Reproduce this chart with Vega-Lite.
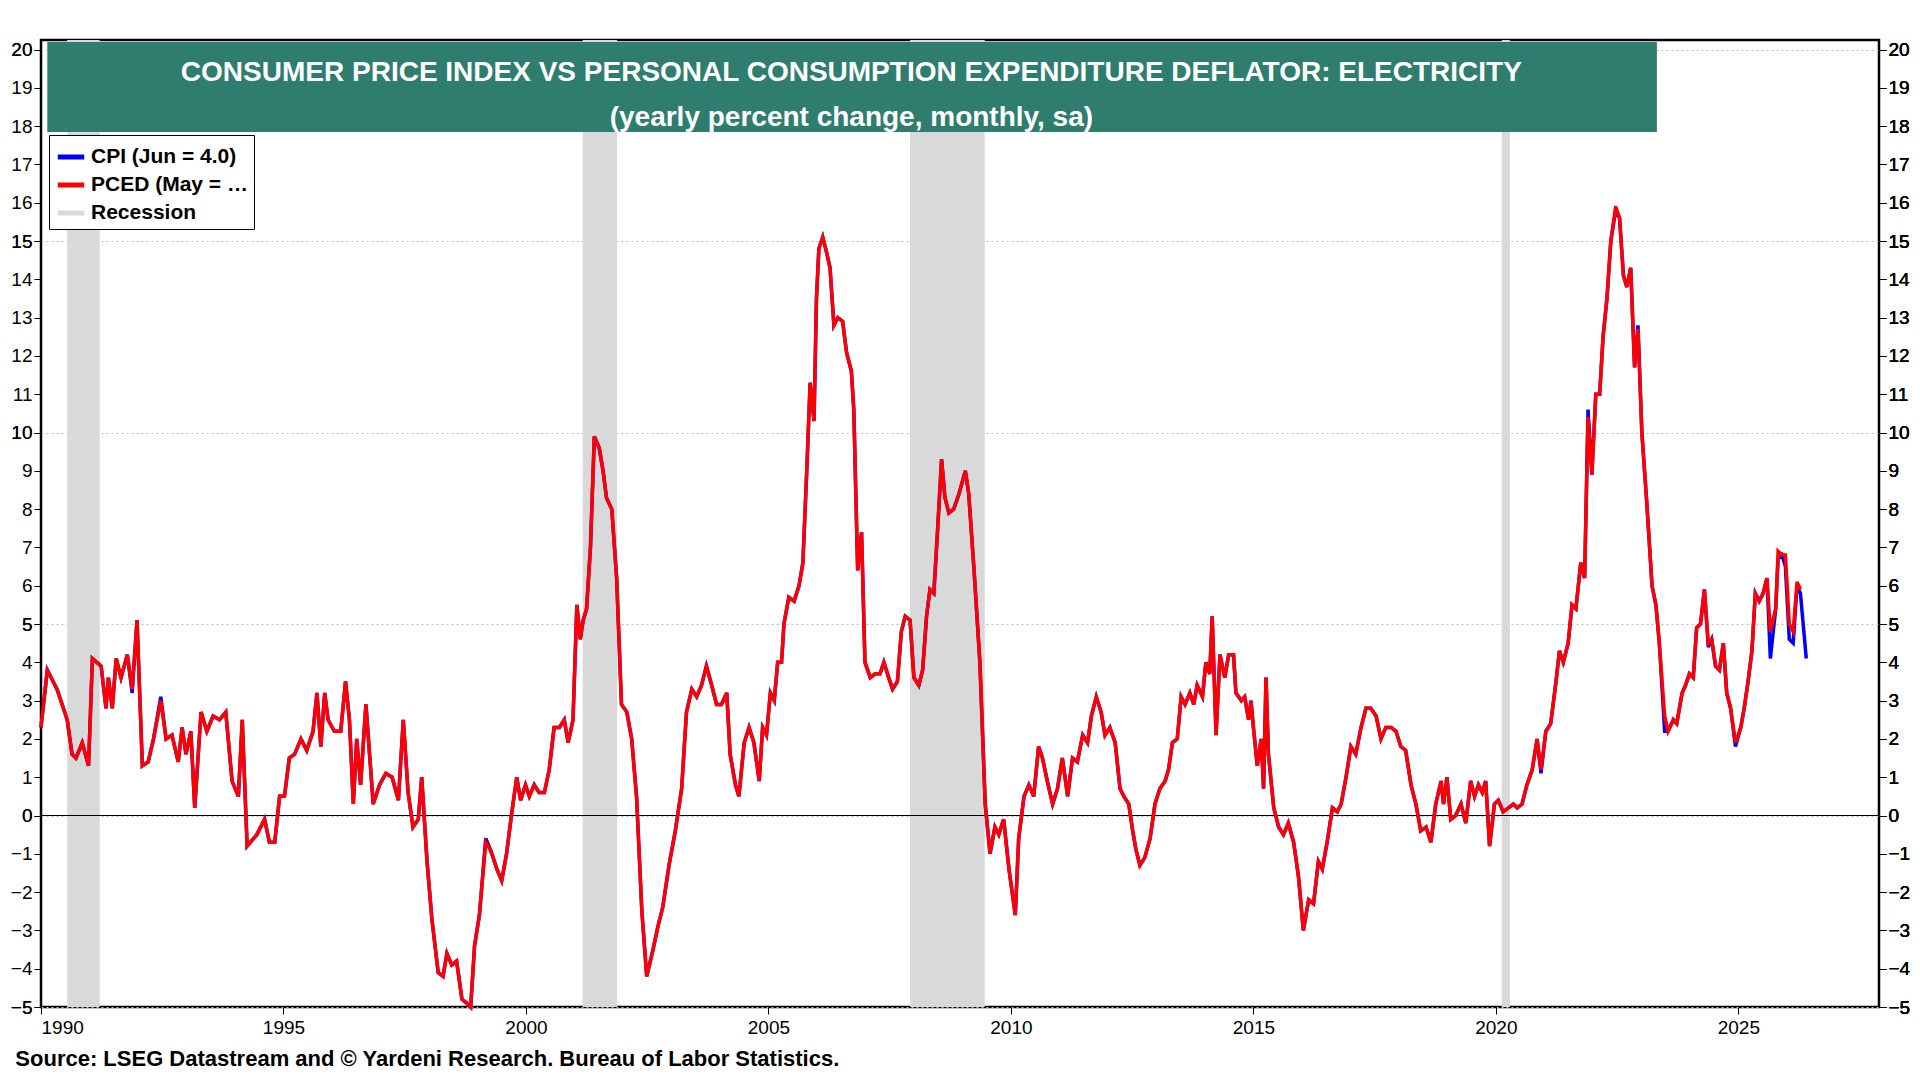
{
  "$schema": "https://vega.github.io/schema/vega-lite/v6.json",
  "width": 1920,
  "height": 1080,
  "autosize": {"type": "fit", "contains": "padding"},
  "background": "white",
  "padding": {"left": 10, "right": 10, "top": 40, "bottom": 10},
  "config": {
    "font": "Liberation Sans",
    "view": {"stroke": "black", "strokeWidth": 2.5},
    "axis": {"labelFont": "Liberation Sans", "labelFontSize": 19, "labelColor": "black", "tickColor": "black", "tickSize": 7, "domain": false, "gridColor": "#bbbbbb", "gridDash": [2, 3], "gridWidth": 1, "title": null}
  },
  "title": {"text": "Source: LSEG Datastream and © Yardeni Research. Bureau of Labor Statistics.", "orient": "bottom", "anchor": "start", "fontSize": 22, "fontWeight": "bold", "font": "Liberation Sans", "offset": 12, "dx": 5},
  "datasets": {
    "rec": [
      {"s": 1990.54, "e": 1991.21},
      {"s": 2001.17, "e": 2001.88},
      {"s": 2007.92, "e": 2009.46},
      {"s": 2020.12, "e": 2020.29}
    ],
    "head": [
      {"x": 2006.71, "y": 19.4, "txt": "CONSUMER PRICE INDEX VS PERSONAL CONSUMPTION EXPENDITURE DEFLATOR: ELECTRICITY"},
      {"x": 2006.71, "y": 18.22, "txt": "(yearly percent change, monthly, sa)"}
    ],
    "d": [
      {"t":1990.00,"c":2.3,"p":2.3},{"t":1990.13,"c":3.8,"p":3.8},{"t":1990.33,"c":3.3,"p":3.3},{"t":1990.54,"c":2.5,"p":2.5},
      {"t":1990.64,"c":1.6,"p":1.6},{"t":1990.72,"c":1.5,"p":1.5},{"t":1990.85,"c":1.9,"p":1.9},{"t":1990.98,"c":1.3,"p":1.3},
      {"t":1991.06,"c":4.1,"p":4.1},{"t":1991.24,"c":3.9,"p":3.9},{"t":1991.34,"c":2.8,"p":2.8},{"t":1991.39,"c":3.6,"p":3.6},
      {"t":1991.47,"c":2.8,"p":2.8},{"t":1991.55,"c":4.1,"p":4.1},{"t":1991.65,"c":3.6,"p":3.6},{"t":1991.78,"c":4.2,"p":4.2},
      {"t":1991.88,"c":3.2,"p":3.3},{"t":1991.98,"c":5.1,"p":5.1},{"t":1992.09,"c":1.3,"p":1.3},{"t":1992.21,"c":1.4,"p":1.4},
      {"t":1992.32,"c":2.0,"p":2.0},{"t":1992.47,"c":3.1,"p":3.0},{"t":1992.58,"c":2.0,"p":2.0},{"t":1992.70,"c":2.1,"p":2.1},
      {"t":1992.83,"c":1.4,"p":1.4},{"t":1992.91,"c":2.3,"p":2.3},{"t":1992.99,"c":1.6,"p":1.6},{"t":1993.09,"c":2.2,"p":2.2},
      {"t":1993.17,"c":0.2,"p":0.2},{"t":1993.30,"c":2.7,"p":2.7},{"t":1993.42,"c":2.2,"p":2.2},{"t":1993.55,"c":2.6,"p":2.6},
      {"t":1993.68,"c":2.5,"p":2.5},{"t":1993.81,"c":2.7,"p":2.7},{"t":1993.94,"c":0.9,"p":0.9},{"t":1994.07,"c":0.5,"p":0.5},
      {"t":1994.15,"c":2.5,"p":2.5},{"t":1994.25,"c":-0.8,"p":-0.8},{"t":1994.45,"c":-0.5,"p":-0.5},{"t":1994.61,"c":-0.1,"p":-0.1},
      {"t":1994.71,"c":-0.7,"p":-0.7},{"t":1994.82,"c":-0.7,"p":-0.7},{"t":1994.92,"c":0.5,"p":0.5},{"t":1995.02,"c":0.5,"p":0.5},
      {"t":1995.12,"c":1.5,"p":1.5},{"t":1995.23,"c":1.6,"p":1.6},{"t":1995.36,"c":2.0,"p":2.0},{"t":1995.48,"c":1.7,"p":1.7},
      {"t":1995.61,"c":2.2,"p":2.2},{"t":1995.69,"c":3.2,"p":3.2},{"t":1995.77,"c":1.8,"p":1.8},{"t":1995.85,"c":3.2,"p":3.2},
      {"t":1995.92,"c":2.5,"p":2.5},{"t":1996.05,"c":2.2,"p":2.2},{"t":1996.18,"c":2.2,"p":2.2},{"t":1996.28,"c":3.5,"p":3.5},
      {"t":1996.36,"c":2.5,"p":2.5},{"t":1996.44,"c":0.3,"p":0.3},{"t":1996.51,"c":2.0,"p":2.0},{"t":1996.59,"c":0.8,"p":0.8},
      {"t":1996.70,"c":2.9,"p":2.9},{"t":1996.85,"c":0.3,"p":0.3},{"t":1996.98,"c":0.8,"p":0.8},{"t":1997.11,"c":1.1,"p":1.1},
      {"t":1997.24,"c":1.0,"p":1.0},{"t":1997.37,"c":0.4,"p":0.4},{"t":1997.47,"c":2.5,"p":2.5},{"t":1997.57,"c":0.6,"p":0.6},
      {"t":1997.67,"c":-0.3,"p":-0.3},{"t":1997.78,"c":-0.1,"p":-0.1},{"t":1997.85,"c":1.0,"p":1.0},{"t":1997.96,"c":-1.2,"p":-1.2},
      {"t":1998.06,"c":-2.7,"p":-2.7},{"t":1998.19,"c":-4.1,"p":-4.1},{"t":1998.29,"c":-4.2,"p":-4.2},{"t":1998.37,"c":-3.6,"p":-3.6},
      {"t":1998.47,"c":-3.9,"p":-3.9},{"t":1998.57,"c":-3.8,"p":-3.8},{"t":1998.68,"c":-4.8,"p":-4.8},{"t":1998.78,"c":-4.9,"p":-4.9},
      {"t":1998.86,"c":-5.0,"p":-5.0},{"t":1998.94,"c":-3.4,"p":-3.4},{"t":1999.04,"c":-2.6,"p":-2.6},{"t":1999.17,"c":-0.6,"p":-0.7},
      {"t":1999.27,"c":-0.9,"p":-0.9},{"t":1999.40,"c":-1.4,"p":-1.4},{"t":1999.50,"c":-1.7,"p":-1.7},{"t":1999.60,"c":-1.0,"p":-1.0},
      {"t":1999.71,"c":0.1,"p":0.1},{"t":1999.81,"c":1.0,"p":1.0},{"t":1999.89,"c":0.4,"p":0.4},{"t":1999.99,"c":0.8,"p":0.8},
      {"t":2000.07,"c":0.5,"p":0.5},{"t":2000.17,"c":0.8,"p":0.8},{"t":2000.27,"c":0.6,"p":0.6},{"t":2000.38,"c":0.6,"p":0.6},
      {"t":2000.48,"c":1.2,"p":1.2},{"t":2000.58,"c":2.3,"p":2.3},{"t":2000.69,"c":2.3,"p":2.3},{"t":2000.79,"c":2.5,"p":2.5},
      {"t":2000.87,"c":1.9,"p":1.9},{"t":2000.97,"c":2.5,"p":2.5},{"t":2001.05,"c":5.5,"p":5.5},{"t":2001.12,"c":4.6,"p":4.6},
      {"t":2001.18,"c":5.1,"p":5.1},{"t":2001.25,"c":5.4,"p":5.4},{"t":2001.33,"c":7.0,"p":7.0},{"t":2001.41,"c":9.9,"p":9.9},
      {"t":2001.51,"c":9.6,"p":9.6},{"t":2001.59,"c":9.0,"p":9.0},{"t":2001.66,"c":8.3,"p":8.3},{"t":2001.77,"c":8.0,"p":8.0},
      {"t":2001.87,"c":6.2,"p":6.2},{"t":2001.97,"c":2.9,"p":2.9},{"t":2002.08,"c":2.7,"p":2.7},{"t":2002.18,"c":2.0,"p":2.0},
      {"t":2002.28,"c":0.5,"p":0.5},{"t":2002.39,"c":-2.5,"p":-2.5},{"t":2002.49,"c":-4.2,"p":-4.2},{"t":2002.62,"c":-3.5,"p":-3.5},
      {"t":2002.72,"c":-2.9,"p":-2.9},{"t":2002.82,"c":-2.4,"p":-2.4},{"t":2002.95,"c":-1.3,"p":-1.3},{"t":2003.08,"c":-0.4,"p":-0.4},
      {"t":2003.21,"c":0.7,"p":0.7},{"t":2003.31,"c":2.7,"p":2.7},{"t":2003.42,"c":3.3,"p":3.3},{"t":2003.52,"c":3.1,"p":3.1},
      {"t":2003.62,"c":3.4,"p":3.4},{"t":2003.72,"c":3.9,"p":3.9},{"t":2003.83,"c":3.4,"p":3.4},{"t":2003.93,"c":2.9,"p":2.9},
      {"t":2004.03,"c":2.9,"p":2.9},{"t":2004.14,"c":3.2,"p":3.2},{"t":2004.21,"c":1.6,"p":1.6},{"t":2004.32,"c":0.8,"p":0.8},
      {"t":2004.39,"c":0.5,"p":0.5},{"t":2004.50,"c":1.9,"p":1.9},{"t":2004.60,"c":2.3,"p":2.3},{"t":2004.70,"c":1.9,"p":1.9},
      {"t":2004.81,"c":0.9,"p":0.9},{"t":2004.88,"c":2.3,"p":2.3},{"t":2004.96,"c":2.1,"p":2.1},{"t":2005.04,"c":3.2,"p":3.2},
      {"t":2005.12,"c":3.0,"p":3.0},{"t":2005.19,"c":4.0,"p":4.0},{"t":2005.27,"c":4.0,"p":4.0},{"t":2005.32,"c":5.0,"p":5.0},
      {"t":2005.42,"c":5.7,"p":5.7},{"t":2005.53,"c":5.6,"p":5.6},{"t":2005.63,"c":6.0,"p":6.0},{"t":2005.71,"c":6.6,"p":6.6},
      {"t":2005.79,"c":9.0,"p":9.0},{"t":2005.86,"c":11.3,"p":11.3},{"t":2005.94,"c":10.3,"p":10.3},{"t":2005.99,"c":13.5,"p":13.5},
      {"t":2006.04,"c":14.8,"p":14.8},{"t":2006.12,"c":15.1,"p":15.1},{"t":2006.20,"c":14.7,"p":14.7},{"t":2006.27,"c":14.3,"p":14.3},
      {"t":2006.35,"c":12.8,"p":12.8},{"t":2006.43,"c":13.0,"p":13.0},{"t":2006.53,"c":12.9,"p":12.9},{"t":2006.61,"c":12.1,"p":12.1},
      {"t":2006.71,"c":11.6,"p":11.6},{"t":2006.76,"c":10.6,"p":10.6},{"t":2006.84,"c":6.4,"p":6.4},{"t":2006.92,"c":7.4,"p":7.4},
      {"t":2006.99,"c":4.0,"p":4.0},{"t":2007.10,"c":3.6,"p":3.6},{"t":2007.20,"c":3.7,"p":3.7},{"t":2007.30,"c":3.7,"p":3.7},
      {"t":2007.38,"c":4.0,"p":4.0},{"t":2007.48,"c":3.6,"p":3.6},{"t":2007.56,"c":3.3,"p":3.3},{"t":2007.66,"c":3.5,"p":3.5},
      {"t":2007.74,"c":4.8,"p":4.8},{"t":2007.82,"c":5.2,"p":5.2},{"t":2007.92,"c":5.1,"p":5.1},{"t":2008.00,"c":3.6,"p":3.6},
      {"t":2008.10,"c":3.4,"p":3.4},{"t":2008.18,"c":3.8,"p":3.8},{"t":2008.26,"c":5.2,"p":5.2},{"t":2008.33,"c":5.9,"p":5.9},
      {"t":2008.41,"c":5.8,"p":5.8},{"t":2008.49,"c":7.5,"p":7.5},{"t":2008.57,"c":9.3,"p":9.3},{"t":2008.64,"c":8.3,"p":8.3},
      {"t":2008.72,"c":7.9,"p":7.9},{"t":2008.82,"c":8.0,"p":8.0},{"t":2008.93,"c":8.4,"p":8.4},{"t":2009.06,"c":9.0,"p":9.0},
      {"t":2009.13,"c":8.4,"p":8.4},{"t":2009.24,"c":6.4,"p":6.4},{"t":2009.36,"c":4.0,"p":4.0},{"t":2009.47,"c":0.3,"p":0.3},
      {"t":2009.57,"c":-1.0,"p":-1.0},{"t":2009.67,"c":-0.3,"p":-0.3},{"t":2009.75,"c":-0.5,"p":-0.5},{"t":2009.85,"c":-0.1,"p":-0.1},
      {"t":2009.96,"c":-1.4,"p":-1.4},{"t":2010.09,"c":-2.6,"p":-2.6},{"t":2010.16,"c":-0.6,"p":-0.6},{"t":2010.27,"c":0.5,"p":0.5},
      {"t":2010.37,"c":0.8,"p":0.8},{"t":2010.47,"c":0.5,"p":0.5},{"t":2010.57,"c":1.8,"p":1.8},{"t":2010.65,"c":1.5,"p":1.5},
      {"t":2010.75,"c":0.9,"p":0.9},{"t":2010.86,"c":0.3,"p":0.3},{"t":2010.96,"c":0.7,"p":0.7},{"t":2011.06,"c":1.5,"p":1.5},
      {"t":2011.17,"c":0.5,"p":0.5},{"t":2011.27,"c":1.5,"p":1.5},{"t":2011.37,"c":1.4,"p":1.4},{"t":2011.48,"c":2.1,"p":2.1},
      {"t":2011.58,"c":1.9,"p":1.9},{"t":2011.66,"c":2.6,"p":2.6},{"t":2011.76,"c":3.1,"p":3.1},{"t":2011.86,"c":2.7,"p":2.7},
      {"t":2011.94,"c":2.1,"p":2.1},{"t":2012.04,"c":2.3,"p":2.3},{"t":2012.15,"c":1.9,"p":1.9},{"t":2012.25,"c":0.7,"p":0.7},
      {"t":2012.33,"c":0.5,"p":0.5},{"t":2012.43,"c":0.3,"p":0.3},{"t":2012.51,"c":-0.4,"p":-0.4},{"t":2012.58,"c":-0.9,"p":-0.9},
      {"t":2012.66,"c":-1.3,"p":-1.3},{"t":2012.76,"c":-1.1,"p":-1.1},{"t":2012.87,"c":-0.6,"p":-0.6},{"t":2012.97,"c":0.3,"p":0.3},
      {"t":2013.07,"c":0.7,"p":0.7},{"t":2013.18,"c":0.9,"p":0.9},{"t":2013.25,"c":1.2,"p":1.2},{"t":2013.33,"c":1.9,"p":1.9},
      {"t":2013.43,"c":2.0,"p":2.0},{"t":2013.51,"c":3.1,"p":3.1},{"t":2013.59,"c":2.9,"p":2.9},{"t":2013.69,"c":3.2,"p":3.2},
      {"t":2013.77,"c":2.9,"p":2.9},{"t":2013.84,"c":3.4,"p":3.4},{"t":2013.95,"c":3.1,"p":3.1},{"t":2014.02,"c":4.0,"p":4.0},
      {"t":2014.10,"c":3.7,"p":3.7},{"t":2014.15,"c":5.2,"p":5.2},{"t":2014.23,"c":2.1,"p":2.1},{"t":2014.31,"c":4.2,"p":4.2},
      {"t":2014.41,"c":3.6,"p":3.6},{"t":2014.49,"c":4.2,"p":4.2},{"t":2014.59,"c":4.2,"p":4.2},{"t":2014.64,"c":3.2,"p":3.2},
      {"t":2014.75,"c":3.0,"p":3.0},{"t":2014.82,"c":3.1,"p":3.1},{"t":2014.90,"c":2.5,"p":2.5},{"t":2014.95,"c":3.0,"p":3.0},
      {"t":2015.00,"c":2.3,"p":2.3},{"t":2015.08,"c":1.3,"p":1.3},{"t":2015.16,"c":2.0,"p":2.0},{"t":2015.21,"c":0.7,"p":0.7},
      {"t":2015.26,"c":3.6,"p":3.6},{"t":2015.31,"c":1.6,"p":1.6},{"t":2015.42,"c":0.2,"p":0.2},{"t":2015.52,"c":-0.3,"p":-0.3},
      {"t":2015.62,"c":-0.5,"p":-0.5},{"t":2015.72,"c":-0.2,"p":-0.2},{"t":2015.83,"c":-0.7,"p":-0.7},{"t":2015.93,"c":-1.6,"p":-1.6},
      {"t":2016.03,"c":-3.0,"p":-3.0},{"t":2016.14,"c":-2.2,"p":-2.2},{"t":2016.24,"c":-2.3,"p":-2.3},{"t":2016.34,"c":-1.2,"p":-1.2},
      {"t":2016.42,"c":-1.4,"p":-1.4},{"t":2016.52,"c":-0.7,"p":-0.7},{"t":2016.63,"c":0.2,"p":0.2},{"t":2016.73,"c":0.1,"p":0.1},
      {"t":2016.81,"c":0.3,"p":0.3},{"t":2016.91,"c":1.0,"p":1.0},{"t":2017.01,"c":1.8,"p":1.8},{"t":2017.11,"c":1.6,"p":1.6},
      {"t":2017.22,"c":2.3,"p":2.3},{"t":2017.32,"c":2.8,"p":2.8},{"t":2017.42,"c":2.8,"p":2.8},{"t":2017.53,"c":2.6,"p":2.6},
      {"t":2017.63,"c":2.0,"p":2.0},{"t":2017.73,"c":2.3,"p":2.3},{"t":2017.84,"c":2.3,"p":2.3},{"t":2017.94,"c":2.2,"p":2.2},
      {"t":2018.04,"c":1.8,"p":1.8},{"t":2018.14,"c":1.7,"p":1.7},{"t":2018.25,"c":0.8,"p":0.8},{"t":2018.35,"c":0.3,"p":0.3},
      {"t":2018.45,"c":-0.4,"p":-0.4},{"t":2018.56,"c":-0.3,"p":-0.3},{"t":2018.66,"c":-0.7,"p":-0.7},{"t":2018.76,"c":0.3,"p":0.3},
      {"t":2018.87,"c":0.9,"p":0.9},{"t":2018.92,"c":0.3,"p":0.3},{"t":2018.99,"c":1.0,"p":1.0},{"t":2019.07,"c":-0.1,"p":-0.1},
      {"t":2019.17,"c":0.0,"p":0.0},{"t":2019.28,"c":0.3,"p":0.3},{"t":2019.38,"c":-0.2,"p":-0.2},{"t":2019.48,"c":0.9,"p":0.9},
      {"t":2019.56,"c":0.5,"p":0.5},{"t":2019.64,"c":0.8,"p":0.8},{"t":2019.72,"c":0.6,"p":0.6},{"t":2019.79,"c":0.9,"p":0.9},
      {"t":2019.87,"c":-0.8,"p":-0.8},{"t":2019.97,"c":0.3,"p":0.3},{"t":2020.05,"c":0.4,"p":0.4},{"t":2020.15,"c":0.1,"p":0.1},
      {"t":2020.26,"c":0.2,"p":0.2},{"t":2020.36,"c":0.3,"p":0.3},{"t":2020.44,"c":0.2,"p":0.2},{"t":2020.54,"c":0.3,"p":0.3},
      {"t":2020.64,"c":0.8,"p":0.8},{"t":2020.75,"c":1.2,"p":1.2},{"t":2020.85,"c":2.0,"p":2.0},{"t":2020.93,"c":1.1,"p":1.2},
      {"t":2021.03,"c":2.2,"p":2.2},{"t":2021.13,"c":2.4,"p":2.4},{"t":2021.24,"c":3.5,"p":3.5},{"t":2021.31,"c":4.3,"p":4.3},
      {"t":2021.39,"c":4.0,"p":4.0},{"t":2021.49,"c":4.5,"p":4.5},{"t":2021.57,"c":5.5,"p":5.5},{"t":2021.65,"c":5.4,"p":5.4},
      {"t":2021.75,"c":6.6,"p":6.6},{"t":2021.83,"c":6.2,"p":6.2},{"t":2021.90,"c":10.6,"p":10.4},{"t":2021.98,"c":8.9,"p":8.9},
      {"t":2022.06,"c":11.0,"p":11.0},{"t":2022.14,"c":11.0,"p":11.0},{"t":2022.21,"c":12.5,"p":12.5},{"t":2022.29,"c":13.5,"p":13.5},
      {"t":2022.37,"c":15.0,"p":15.0},{"t":2022.47,"c":15.8,"p":15.9},{"t":2022.55,"c":15.6,"p":15.6},{"t":2022.63,"c":14.1,"p":14.1},
      {"t":2022.70,"c":13.8,"p":13.8},{"t":2022.78,"c":14.3,"p":14.3},{"t":2022.86,"c":11.7,"p":11.7},{"t":2022.93,"c":12.8,"p":12.7},
      {"t":2023.01,"c":10.0,"p":10.0},{"t":2023.11,"c":8.2,"p":8.2},{"t":2023.22,"c":6.0,"p":6.0},{"t":2023.30,"c":5.5,"p":5.5},
      {"t":2023.37,"c":4.5,"p":4.5},{"t":2023.48,"c":2.2,"p":2.6},{"t":2023.55,"c":2.2,"p":2.2},{"t":2023.66,"c":2.5,"p":2.5},
      {"t":2023.73,"c":2.4,"p":2.4},{"t":2023.84,"c":3.2,"p":3.2},{"t":2023.91,"c":3.4,"p":3.4},{"t":2023.99,"c":3.7,"p":3.7},
      {"t":2024.07,"c":3.6,"p":3.6},{"t":2024.14,"c":4.9,"p":4.9},{"t":2024.22,"c":5.0,"p":5.0},{"t":2024.30,"c":5.9,"p":5.9},
      {"t":2024.38,"c":4.4,"p":4.5},{"t":2024.45,"c":4.6,"p":4.6},{"t":2024.53,"c":3.9,"p":3.9},{"t":2024.61,"c":3.8,"p":3.8},
      {"t":2024.69,"c":4.5,"p":4.5},{"t":2024.76,"c":3.2,"p":3.2},{"t":2024.84,"c":2.8,"p":2.8},{"t":2024.94,"c":1.8,"p":1.9},
      {"t":2025.05,"c":2.3,"p":2.3},{"t":2025.12,"c":2.8,"p":2.8},{"t":2025.20,"c":3.5,"p":3.5},{"t":2025.28,"c":4.3,"p":4.3},
      {"t":2025.35,"c":5.8,"p":5.8},{"t":2025.43,"c":5.6,"p":5.6},{"t":2025.51,"c":5.8,"p":5.8},{"t":2025.59,"c":6.2,"p":6.2},
      {"t":2025.66,"c":4.1,"p":4.8},{"t":2025.77,"c":5.4,"p":5.4},{"t":2025.82,"c":6.7,"p":6.9},{"t":2025.90,"c":6.8,"p":6.8},
      {"t":2025.97,"c":6.5,"p":6.8},{"t":2026.05,"c":4.6,"p":5.0},{"t":2026.13,"c":4.5,"p":4.8},{"t":2026.21,"c":6.0,"p":6.1},
      {"t":2026.28,"c":5.8,"p":5.9},{"t":2026.40,"c":4.1,"p":null}
    ]
  },
  "resolve": {"axis": {"y": "independent"}},
  "layer": [
    {
      "data": {"name": "rec"},
      "mark": {"type": "rect", "opacity": 1},
      "encoding": {
        "x": {"field": "s", "type": "quantitative", "scale": {"domain": [1990, 2027.9], "nice": false, "zero": false},
          "axis": {"values": [1990, 1995, 2000, 2005, 2010, 2015, 2020, 2025], "format": "d", "grid": false, "labelPadding": 4}},
        "x2": {"field": "e"},
        "y": {"datum": -5, "type": "quantitative", "scale": {"domain": [-5, 20.25], "nice": false, "zero": false},
          "axis": {"orient": "left", "values": [-5, 0, 5, 10, 15, 20], "grid": true}},
        "y2": {"datum": 20.25},
        "color": {"datum": "Recession", "type": "nominal",
          "scale": {"domain": ["CPI (Jun = 4.0)", "PCED (May = 5.9)", "Recession"], "range": ["#0000ff", "#ff0000", "#d9d9d9"]},
          "legend": {"title": null, "orient": "none", "legendX": 8, "legendY": 95, "symbolType": "stroke", "symbolStrokeWidth": 5, "symbolSize": 700,
            "labelFontSize": 21, "labelFontWeight": "bold", "labelFont": "Liberation Sans", "labelColor": "black",
            "strokeColor": "black", "fillColor": "white", "padding": 6, "rowPadding": 2}}
      }
    },
    {
      "data": {"values": [{"t": 1990, "y": 0}, {"t": 2027.9, "y": 0}]},
      "mark": {"type": "line", "color": "black", "strokeWidth": 1},
      "encoding": {"x": {"field": "t", "type": "quantitative"}, "y": {"field": "y", "type": "quantitative",
        "axis": {"orient": "right", "values": [-5, 0, 5, 10, 15, 20], "grid": false}}}
    },
    {
      "data": {"name": "d"},
      "mark": {"type": "line", "strokeWidth": 3.5},
      "encoding": {"x": {"field": "t", "type": "quantitative"}, "y": {"field": "c", "type": "quantitative"}, "color": {"datum": "CPI (Jun = 4.0)", "type": "nominal"}}
    },
    {
      "data": {"name": "d"},
      "transform": [{"filter": "isValid(datum.p)"}],
      "mark": {"type": "line", "strokeWidth": 3.5},
      "encoding": {"x": {"field": "t", "type": "quantitative"}, "y": {"field": "p", "type": "quantitative"}, "color": {"datum": "PCED (May = 5.9)", "type": "nominal"}}
    },
    {
      "data": {"values": [{"s": 1990.13, "e": 2023.32}]},
      "mark": {"type": "rect", "color": "#2e7d6e"},
      "encoding": {"x": {"field": "s", "type": "quantitative"}, "x2": {"field": "e"}, "y": {"datum": 17.85, "type": "quantitative"}, "y2": {"datum": 20.2}}
    },
    {
      "data": {"name": "head"},
      "mark": {"type": "text", "color": "white", "fontWeight": "bold", "fontSize": 28, "font": "Liberation Sans", "align": "center", "baseline": "middle"},
      "encoding": {"x": {"field": "x", "type": "quantitative"}, "y": {"field": "y", "type": "quantitative"}, "text": {"field": "txt"}}
    }
  ]
}
